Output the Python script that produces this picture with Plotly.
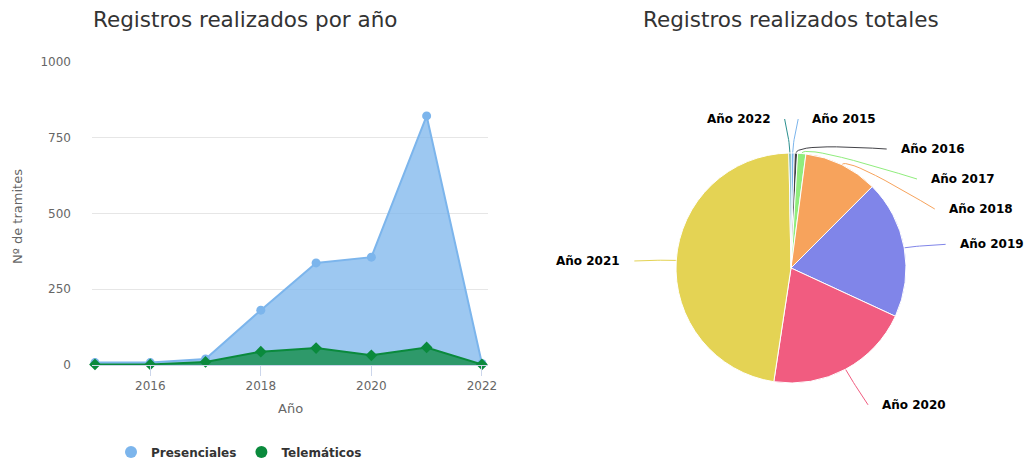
import math
import plotly.graph_objects as go

# Yearly registrations
years = [2015, 2016, 2017, 2018, 2019, 2020, 2021, 2022]
presenciales = [8, 8, 20, 181, 337, 356, 822, 5]
telematicos = [2, 2, 10, 44, 56, 32, 58, 2]

# Pie of registrations per year
pie_labels = ["Año 2015", "Año 2016", "Año 2017", "Año 2018",
              "Año 2019", "Año 2020", "Año 2021", "Año 2022"]
pie_values = presenciales
pie_colors = ["#7cb5ec", "#434348", "#90ed7d", "#f7a35c",
              "#8085e9", "#f15c80", "#e4d354", "#2b908f"]

y_ticks = [0, 250, 500, 750, 1000]
x_ticks = [2016, 2018, 2020, 2022]

W, H = 1025, 462
FONT = "DejaVu Sans"

# Pie geometry in pixels (paper has no margins)
PIE_CX, PIE_CY, PIE_R = 791, 268, 115
LABEL_R = 152          # radius of the label circle
LABEL_PAD = 5          # extra horizontal offset of the connector end
TEXT_GAP = 12          # gap between connector end and label text
LABEL_STEP = 30        # minimum vertical spacing between labels
LABEL_DY = 3           # label text sits slightly below its anchor

fig = go.Figure()

fig.add_trace(go.Scatter(
    x=years, y=presenciales, name="Presenciales", mode="lines+markers",
    line=dict(color="#7cb5ec", width=2),
    marker=dict(symbol="circle", size=9, color="#7cb5ec"),
    fill="tozeroy", fillcolor="rgba(124,181,236,0.75)",
    cliponaxis=False, showlegend=False,
))
fig.add_trace(go.Scatter(
    x=years, y=telematicos, name="Telemáticos", mode="lines+markers",
    line=dict(color="#0a8a3c", width=2),
    marker=dict(symbol="diamond", size=9, color="#0a8a3c"),
    fill="tozeroy", fillcolor="rgba(10,138,60,0.75)",
    cliponaxis=False, showlegend=False,
))
# Legend entries drawn as round symbols
for name, col in [("Presenciales", "#7cb5ec"), ("Telemáticos", "#0a8a3c")]:
    fig.add_trace(go.Scatter(
        x=[None], y=[None], name=name, mode="markers",
        marker=dict(symbol="circle", size=15, color=col),
    ))

fig.add_trace(go.Pie(
    labels=pie_labels, values=pie_values, sort=False, direction="clockwise",
    rotation=0, marker=dict(colors=pie_colors, line=dict(color="white", width=1)),
    textinfo="none",
    domain=dict(x=[(PIE_CX - PIE_R) / W, (PIE_CX + PIE_R) / W],
                y=[1 - (PIE_CY + PIE_R) / H, 1 - (PIE_CY - PIE_R) / H]),
    showlegend=False, hoverinfo="label+value+percent",
))

# ---- outside data labels with connectors, laid out from the slice angles ----
total = float(sum(pie_values))
acc = 0.0
items = []
for lab, val, col in zip(pie_labels, pie_values, pie_colors):
    mid = (acc + val / 2.0) / total * 2 * math.pi   # clockwise from 12 o'clock
    acc += val
    side = 1 if math.sin(mid) >= 0 else -1
    target_y = PIE_CY - LABEL_R * math.cos(mid)
    items.append(dict(label=lab, color=col, mid=mid, side=side, y=target_y))


def spread(group):
    group.sort(key=lambda d: d["y"])
    for i in range(1, len(group)):
        if group[i]["y"] < group[i - 1]["y"] + LABEL_STEP:
            group[i]["y"] = group[i - 1]["y"] + LABEL_STEP


spread([d for d in items if d["side"] > 0])
spread([d for d in items if d["side"] < 0])

annotations = []
for d in items:
    s = max(-1.0, min(1.0, (d["y"] - PIE_CY) / LABEL_R))
    xe = PIE_CX + d["side"] * (math.cos(math.asin(s)) * LABEL_R + LABEL_PAD)
    y = d["y"] + LABEL_DY
    sx = PIE_CX + PIE_R * math.sin(d["mid"])
    sy = PIE_CY - PIE_R * math.cos(d["mid"])
    bx = PIE_CX + (PIE_R + 10) * math.sin(d["mid"])
    by = PIE_CY - (PIE_R + 10) * math.cos(d["mid"])
    # soft connector: quadratic curve from slice edge through the break point
    xs, ys = [sx], [sy]
    n = 12
    for k in range(1, n + 1):
        t = k / n
        xs.append((1 - t) ** 2 * sx + 2 * (1 - t) * t * bx + t * t * xe)
        ys.append((1 - t) ** 2 * sy + 2 * (1 - t) * t * by + t * t * y)
    fig.add_trace(go.Scatter(
        x=xs, y=ys, xaxis="x2", yaxis="y2", mode="lines",
        line=dict(color=d["color"], width=1), hoverinfo="skip",
        showlegend=False, cliponaxis=False,
    ))
    annotations.append(dict(
        text=d["label"], x=(xe + d["side"] * TEXT_GAP) / W, y=1 - y / H,
        xref="paper", yref="paper", showarrow=False,
        xanchor="left" if d["side"] > 0 else "right", yanchor="middle",
        font=dict(family=FONT, size=12, color="#000000", weight="bold"),
    ))

annotations += [
    dict(text="Registros realizados por año", x=245 / W, y=1 - 20 / H,
         xref="paper", yref="paper", showarrow=False,
         xanchor="center", yanchor="middle",
         font=dict(size=21.5, color="#333333", family=FONT)),
    dict(text="Registros realizados totales", x=791 / W, y=1 - 20 / H,
         xref="paper", yref="paper", showarrow=False,
         xanchor="center", yanchor="middle",
         font=dict(size=21.5, color="#333333", family=FONT)),
    dict(text="Nº de tramites", x=17 / W, y=1 - 217 / H, textangle=-90,
         xref="paper", yref="paper", showarrow=False,
         xanchor="center", yanchor="middle",
         font=dict(size=13, color="#666666", family=FONT)),
    dict(text="Año", x=290 / W, y=1 - 408 / H,
         xref="paper", yref="paper", showarrow=False,
         xanchor="center", yanchor="middle",
         font=dict(size=13, color="#666666", family=FONT)),
]

fig.update_layout(
    width=W, height=H,
    margin=dict(l=0, r=0, t=0, b=0, autoexpand=False),
    paper_bgcolor="white", plot_bgcolor="rgba(0,0,0,0)",
    font=dict(family=FONT, color="#666666", size=12),
    xaxis=dict(
        domain=[92 / W, 488 / W], range=[2014.946, 2022.11],
        tickvals=x_ticks, ticks="outside", ticklen=10, tickcolor="#ccd6eb",
        showgrid=False, showline=True, linecolor="#ccd6eb", linewidth=1,
        zeroline=False, tickfont=dict(size=12, color="#666666"),
        automargin=False,
    ),
    yaxis=dict(
        domain=[1 - 365 / H, 1 - 62 / H], range=[0, 1000],
        tickvals=y_ticks, showgrid=True, gridcolor="#e6e6e6", gridwidth=1,
        zeroline=False, showline=False, ticks="", ticklabelstandoff=20,
        tickfont=dict(size=12, color="#666666"), automargin=False,
    ),
    # pixel-space overlay used for the pie connectors
    xaxis2=dict(domain=[0, 1], range=[0, W], visible=False, fixedrange=True,
                anchor="y2"),
    yaxis2=dict(domain=[0, 1], range=[H, 0], visible=False, fixedrange=True,
                anchor="x2"),
    legend=dict(
        orientation="h", x=239 / W, xanchor="center", y=1 - 452 / H,
        yanchor="middle", font=dict(size=12, color="#333333", family=FONT,
                                    weight="bold"),
        itemsizing="constant", bgcolor="rgba(0,0,0,0)",
    ),
    annotations=annotations,
)

fig.write_html("out.html")
